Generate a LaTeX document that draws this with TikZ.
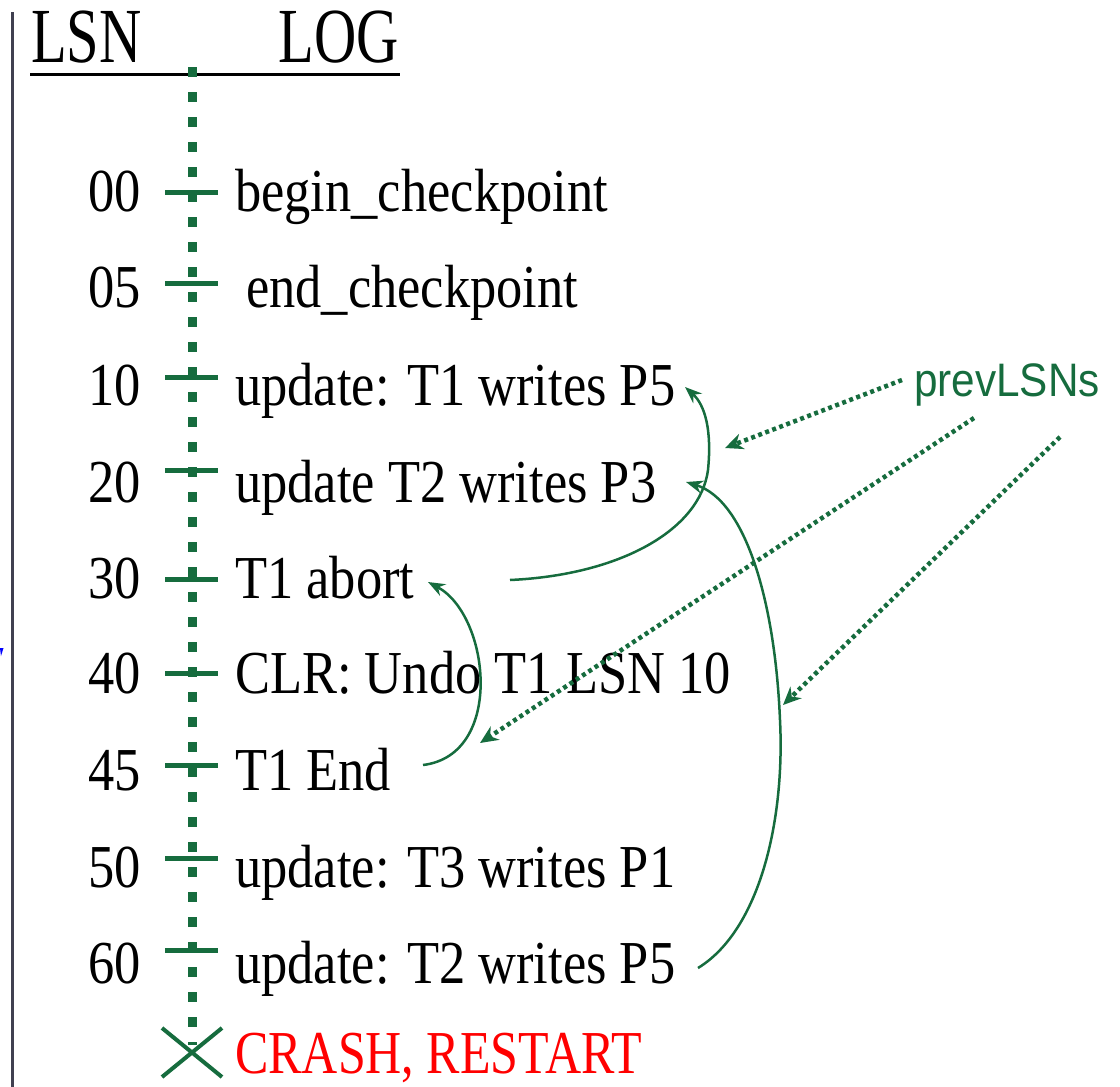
\documentclass[tikz,border=0pt]{standalone}
\usepackage{fontspec}
\setmainfont{Liberation Serif}
\newfontfamily\lsnsans{Liberation Sans}
\usetikzlibrary{arrows.meta}
\definecolor{lsngreen}{RGB}{22,108,62}
\definecolor{edgegray}{RGB}{64,64,80}
\newcommand\itemtxt[1]{\scalebox{0.86}[1]{#1}}
\newcommand\headtxt[1]{\scalebox{0.75}[1]{#1}}
\tikzset{
  rowtxt/.style={inner sep=0pt, anchor=base west, font=\fontsize{61}{70}\selectfont},
  numtxt/.style={inner sep=0pt, anchor=base east, font=\fontsize{61}{70}\selectfont},
  headnode/.style={inner sep=0pt, font=\fontsize{78}{90}\selectfont},
  tickmark/.style={draw=lsngreen, line width=5pt},
  axisline/.style={draw=lsngreen, line width=9pt, dash pattern=on 10pt off 15pt},
  prevarrow/.style={draw=lsngreen, line width=2.5pt, -{Stealth[length=17pt,width=13pt]}},
  dotarrow/.style={draw=lsngreen, line width=4.5pt, dash pattern=on 4pt off 3.5pt, -{Stealth[length=18pt,width=16pt]}},
}
\begin{document}
\begin{tikzpicture}[x=1pt,y=-1pt]
\useasboundingbox (0,0) rectangle (1120,1087);
% left border line and fragment
\draw[edgegray, line width=3pt] (12,12) -- (12,1087);
\fill[blue] (0,648) -- (3.5,648) -- (1,656) -- cycle;
% header
\node[headnode, anchor=base west] (hlsn) at (31,62) {\headtxt{LSN}};
\node[headnode, anchor=base east] (hlog) at (399,62) {\headtxt{LOG}};
\draw[line width=3pt] (30,74) -- (400,74);
% dotted axis
\coordinate (axtop) at (192,67);
\coordinate (axbot) at (192,1045);
\draw[axisline] (axtop) -- (axbot);
% rows
\foreach \nm/\num/\tk/\bl in {r00/00/192/211, r05/05/283/307, r10/10/377/405, r20/20/470/502, r30/30/579/598, r40/40/673/693, r45/45/765/790, r50/50/858/887, r60/60/950/983}{
  \node[numtxt] (n\nm) at (141,\bl) {\itemtxt{\num}};
  \draw[tickmark] (165,\tk) -- (218,\tk);
}
\node[rowtxt] (t00) at (235,211) {\itemtxt{begin\_checkpoint}};
\node[rowtxt] (t05) at (246,307) {\itemtxt{end\_checkpoint}};
\node[rowtxt] (t10) at (235,405) {\itemtxt{update: T1 writes P5}};
\node[rowtxt] (t20) at (235,502) {\itemtxt{update T2 writes P3}};
\node[rowtxt] (t30) at (235,598) {\itemtxt{T1 abort}};
\node[rowtxt] (t40) at (235,693) {\itemtxt{CLR: Undo T1 LSN 10}};
\node[rowtxt] (t45) at (235,790) {\itemtxt{T1 End}};
\node[rowtxt] (t50) at (235,887) {\itemtxt{update: T3 writes P1}};
\node[rowtxt] (t60) at (235,983) {\itemtxt{update: T2 writes P5}};
% crash
\draw[lsngreen, line width=4pt] (162,1028) -- (222,1077) (162,1077) -- (222,1028);
\node[rowtxt, text=red] (crash) at (235,1073) {\scalebox{0.82}[1]{CRASH, RESTART}};
% prevLSN curves
\coordinate (c1s) at (510,580);
\coordinate (c1m) at (708,470);
\coordinate (c1e) at (685,387);
\draw[prevarrow] (c1s) .. controls (620,575) and (700,530) .. (c1m) .. controls (712,430) and (705,405) .. (c1e);
\coordinate (c2s) at (698,968);
\coordinate (c2m) at (780,720);
\coordinate (c2e) at (686,482);
\draw[prevarrow] (c2s) .. controls (760,930) and (785,820) .. (c2m) .. controls (775,600) and (745,500) .. (c2e);
\coordinate (c3s) at (423,765);
\coordinate (c3e) at (428,582);
\draw[prevarrow] (c3s) .. controls (505,755) and (490,615) .. (c3e);
% prevLSNs label and dotted pointers
\node[inner sep=0pt, anchor=base west, text=lsngreen, font=\lsnsans\fontsize{47}{54}\selectfont] (prev) at (914,396) {\scalebox{0.9}[1]{prevLSNs}};
\coordinate (d1s) at (902,380);
\coordinate (d1e) at (725,448);
\coordinate (d2s) at (974,418);
\coordinate (d2e) at (480,743);
\coordinate (d3s) at (1060,437);
\coordinate (d3e) at (783,705);
\draw[dotarrow] (d1s) -- (d1e);
\draw[dotarrow] (d2s) -- (d2e);
\draw[dotarrow] (d3s) -- (d3e);
\end{tikzpicture}
\end{document}
